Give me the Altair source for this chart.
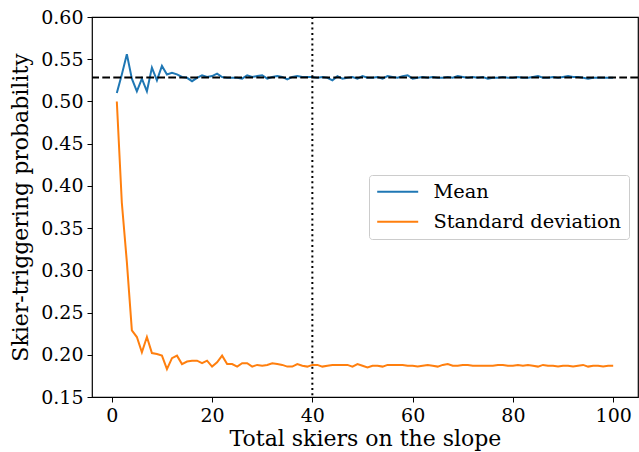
import altair as alt
import pandas as pd

skiers = list(range(1, 101))
mean_vals = [0.510, 0.532, 0.556, 0.527, 0.512, 0.527, 0.512, 0.540, 0.525, 0.542,
             0.532, 0.534, 0.532, 0.529, 0.528, 0.524, 0.528, 0.531, 0.529, 0.530,
             0.533, 0.529, 0.528, 0.528, 0.528, 0.527, 0.531, 0.529, 0.530, 0.531,
             0.527, 0.529, 0.530, 0.529, 0.526, 0.529, 0.530, 0.529, 0.529, 0.529,
             0.528, 0.529, 0.528, 0.525, 0.530, 0.527, 0.528, 0.529, 0.527, 0.530,
             0.528, 0.528, 0.529, 0.527, 0.530, 0.529, 0.528, 0.530, 0.531, 0.527,
             0.528, 0.529, 0.528, 0.529, 0.528, 0.528, 0.529, 0.528, 0.530, 0.529,
             0.528, 0.529, 0.528, 0.529, 0.527, 0.528, 0.528, 0.529, 0.528, 0.528,
             0.529, 0.528, 0.528, 0.529, 0.530, 0.528, 0.528, 0.529, 0.528, 0.529,
             0.530, 0.529, 0.529, 0.528, 0.527, 0.528, 0.528, 0.528, 0.528, 0.528]
std_vals = [0.500, 0.380, 0.310, 0.229, 0.221, 0.203, 0.221, 0.202, 0.201, 0.199,
            0.183, 0.196, 0.199, 0.189, 0.192, 0.193, 0.193, 0.190, 0.193, 0.186,
            0.191, 0.199, 0.189, 0.189, 0.186, 0.190, 0.190, 0.186, 0.188, 0.187,
            0.188, 0.190, 0.189, 0.188, 0.186, 0.186, 0.189, 0.187, 0.186, 0.188,
            0.188, 0.186, 0.187, 0.188, 0.188, 0.188, 0.188, 0.186, 0.189, 0.187,
            0.185, 0.187, 0.187, 0.186, 0.188, 0.188, 0.188, 0.188, 0.187, 0.187,
            0.186, 0.187, 0.188, 0.187, 0.186, 0.188, 0.189, 0.187, 0.187, 0.188,
            0.188, 0.187, 0.187, 0.187, 0.187, 0.187, 0.188, 0.188, 0.187, 0.187,
            0.188, 0.187, 0.188, 0.187, 0.186, 0.188, 0.187, 0.187, 0.186, 0.187,
            0.187, 0.186, 0.187, 0.188, 0.186, 0.187, 0.187, 0.186, 0.187, 0.187]
series_names = ["Mean", "Standard deviation"]
series_colors = ["#1f77b4", "#ff7f0e"]
hline_value = [0.5285]
vline_value = [40]

df = pd.DataFrame({
    "x": skiers * 2,
    "y": mean_vals + std_vals,
    "series": [series_names[0]] * 100 + [series_names[1]] * 100,
})

FONT = "DejaVu Serif"
xscale = alt.Scale(domain=[-3.95, 104.95], nice=False, zero=False)
yscale = alt.Scale(domain=[0.15, 0.60], nice=False, zero=False)

lines = alt.Chart(df).mark_line(strokeWidth=2).encode(
    x=alt.X("x:Q", scale=xscale,
            axis=alt.Axis(title="Total skiers on the slope", values=[0, 20, 40, 60, 80, 100],
                          grid=False, domain=False, tickColor="black", tickSize=5,
                          labelFontSize=19, titleFontSize=22, titleFontWeight="normal",
                          labelColor="black", titleColor="black", labelFont=FONT, titleFont=FONT,
                          titlePadding=3, labelPadding=4)),
    y=alt.Y("y:Q", scale=yscale,
            axis=alt.Axis(title="Skier-triggering probability", format=".2f",
                          values=[0.15, 0.20, 0.25, 0.30, 0.35, 0.40, 0.45, 0.50, 0.55, 0.60],
                          grid=False, domain=False, tickColor="black", tickSize=5,
                          labelFontSize=19, titleFontSize=22, titleFontWeight="normal",
                          labelColor="black", titleColor="black", labelFont=FONT, titleFont=FONT,
                          titlePadding=8, labelPadding=4)),
    color=alt.Color("series:N", scale=alt.Scale(domain=series_names, range=series_colors),
                    legend=alt.Legend(title=None, orient="none", legendX=277, legendY=158,
                                      labelFont=FONT, labelFontSize=19.4, labelColor="black",
                                      labelLimit=400,
                                      symbolType="M-4,0H4", symbolSize=105, symbolStrokeWidth=2,
                                      symbolOffset=12,
                                      rowPadding=9, padding=7, strokeColor="#cccccc",
                                      fillColor="white", cornerRadius=3, labelOffset=26)),
)

hline = alt.Chart(pd.DataFrame({"y": hline_value})).mark_rule(
    color="black", strokeWidth=2, strokeDash=[7.7, 3.3]).encode(y=alt.Y("y:Q", scale=yscale))
vline = alt.Chart(pd.DataFrame({"x": vline_value})).mark_rule(
    color="black", strokeWidth=2, strokeDash=[2, 3.3]).encode(x=alt.X("x:Q", scale=xscale))

chart = alt.layer(lines, hline, vline).properties(
    width=546, height=380,
    autosize=alt.AutoSizeParams(type="none"),
    padding={"left": 92, "top": 17, "right": 1, "bottom": 55},
).configure_view(stroke="black", strokeWidth=1.2)

chart.save("out.html", embed_options={"renderer": "svg", "actions": False})
